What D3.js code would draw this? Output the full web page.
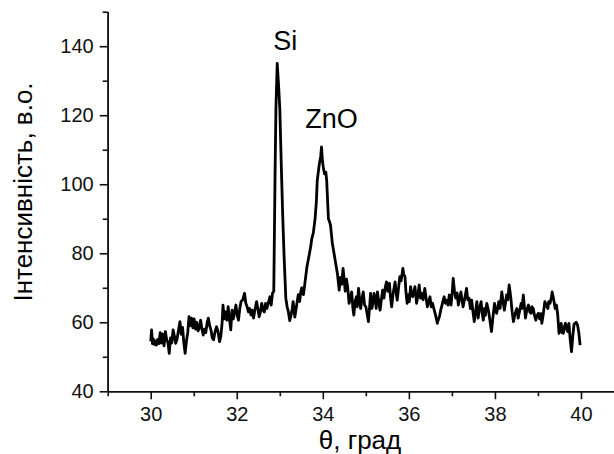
<!DOCTYPE html>
<html>
<head>
<meta charset="utf-8">
<script src="https://cdn.jsdelivr.net/npm/d3@7"></script>
<style>
  body { margin: 0; background: #fff; }
  svg { display: block; font-family: "Liberation Sans", Arial, sans-serif; }
  .axis path, .axis line { stroke: #111; stroke-width: 1.6; }
  .axis text { font-size: 20px; fill: #111; }
  .curve { fill: none; stroke: #000; stroke-width: 2.8; stroke-linejoin: round; }
</style>
</head>
<body>
<div class="container"></div>
<script>
// XRD pattern, [theta, intensity]
var pattern = [
  [30.00, 54.5], [30.02, 57.8], [30.04, 53.8], [30.06, 55.2], [30.08, 53.6], [30.10, 54.6],
  [30.13, 53.4], [30.16, 55.0], [30.19, 53.8], [30.22, 57.0], [30.25, 54.0], [30.28, 56.6],
  [30.31, 53.2], [30.34, 57.3], [30.37, 55.0], [30.40, 54.2], [30.43, 51.0], [30.46, 55.5],
  [30.49, 54.0], [30.52, 57.8], [30.55, 56.0], [30.58, 53.9], [30.61, 55.0], [30.65, 58.0],
  [30.68, 60.2], [30.71, 56.5], [30.74, 58.5], [30.77, 54.0], [30.80, 51.0], [30.83, 54.5],
  [30.86, 57.0], [30.89, 61.6], [30.92, 59.0], [30.95, 61.2], [30.98, 58.4], [31.01, 61.0],
  [31.04, 58.0], [31.07, 60.0], [31.10, 57.5], [31.13, 58.5], [31.16, 60.6], [31.19, 58.0],
  [31.22, 56.3], [31.25, 58.0], [31.28, 57.0], [31.31, 59.8], [31.34, 61.2], [31.37, 59.0],
  [31.40, 57.8], [31.43, 55.5], [31.46, 54.9], [31.49, 57.0], [31.53, 58.7], [31.56, 57.5],
  [31.60, 54.4], [31.63, 56.0], [31.66, 60.0], [31.68, 65.0], [31.71, 61.0], [31.74, 63.0],
  [31.77, 60.6], [31.80, 64.5], [31.83, 61.0], [31.86, 57.8], [31.89, 63.5], [31.92, 61.0],
  [31.95, 63.0], [31.98, 65.0], [32.01, 62.0], [32.04, 60.6], [32.07, 64.0], [32.10, 66.0],
  [32.14, 66.5], [32.18, 68.4], [32.21, 65.5], [32.24, 64.5], [32.27, 63.0], [32.30, 64.0],
  [32.33, 62.1], [32.36, 63.5], [32.39, 61.2], [32.42, 63.5], [32.46, 66.0], [32.49, 64.0],
  [32.52, 61.6], [32.55, 63.0], [32.58, 65.5], [32.61, 63.5], [32.64, 63.0], [32.67, 65.5],
  [32.70, 64.0], [32.73, 65.5], [32.77, 67.4], [32.80, 65.0], [32.83, 68.4], [32.86, 69.0],
  [32.89, 103], [32.91, 122], [32.94, 135], [32.97, 129], [33.00, 122], [33.04, 103],
  [33.07, 90], [33.10, 79], [33.14, 67], [33.17, 64.5], [33.20, 63], [33.23, 60.5],
  [33.26, 62], [33.29, 64], [33.31, 66], [33.33, 63.5], [33.35, 61.5], [33.38, 64],
  [33.41, 66.5], [33.43, 68], [33.46, 66], [33.49, 69], [33.51, 70], [33.55, 68],
  [33.59, 72], [33.63, 76], [33.66, 78], [33.69, 80], [33.72, 82], [33.74, 84],
  [33.78, 86], [33.82, 90], [33.85, 95], [33.87, 101], [33.90, 104], [33.92, 106],
  [33.95, 108], [33.97, 110.8], [33.99, 107], [34.01, 105], [34.04, 103], [34.07, 103.5],
  [34.09, 101], [34.13, 90], [34.16, 89], [34.18, 88], [34.22, 83], [34.26, 80],
  [34.30, 77], [34.34, 74], [34.38, 69.3], [34.41, 73], [34.44, 71], [34.47, 75.6],
  [34.50, 72], [34.52, 69], [34.55, 72.5], [34.58, 70], [34.61, 65.5], [34.64, 67],
  [34.67, 68.8], [34.70, 64], [34.72, 62.1], [34.75, 66], [34.78, 67.4], [34.80, 64.5],
  [34.83, 69.8], [34.86, 66], [34.88, 64], [34.91, 67], [34.94, 68.8], [34.97, 65],
  [35.00, 64.5], [35.03, 62.5], [35.06, 60.2], [35.09, 65], [35.11, 68.4], [35.14, 64],
  [35.17, 66], [35.19, 68.4], [35.22, 66.5], [35.24, 64], [35.27, 68.8], [35.30, 66],
  [35.33, 63.5], [35.36, 66.5], [35.39, 69.3], [35.42, 67], [35.45, 70], [35.48, 71.7],
  [35.51, 69], [35.55, 71.3], [35.57, 67.5], [35.60, 64.5], [35.63, 68], [35.66, 70.3],
  [35.68, 71.7], [35.71, 68], [35.73, 66.4], [35.76, 70], [35.79, 73.2], [35.82, 72],
  [35.86, 75.6], [35.88, 74], [35.91, 73.2], [35.93, 69], [35.96, 65.5], [35.99, 68],
  [36.01, 66], [36.04, 70.3], [36.07, 68], [36.09, 67.4], [36.12, 69], [36.14, 70.3],
  [36.16, 68], [36.18, 65.5], [36.21, 68], [36.24, 70.8], [36.27, 67], [36.30, 68.4],
  [36.33, 66.5], [36.37, 69.8], [36.40, 67], [36.43, 64.5], [36.46, 66], [36.49, 67.4],
  [36.52, 64.5], [36.55, 65.5], [36.58, 64], [36.61, 62.6], [36.64, 61], [36.66, 59.7],
  [36.69, 61], [36.71, 61.6], [36.74, 63.5], [36.76, 64.5], [36.79, 66], [36.82, 67.4],
  [36.85, 65.5], [36.88, 66.4], [36.91, 65], [36.94, 67.9], [36.96, 66], [36.98, 65],
  [37.01, 69], [37.03, 72.7], [37.06, 69], [37.09, 67], [37.12, 68.5], [37.15, 65],
  [37.18, 67], [37.21, 68.8], [37.24, 66], [37.26, 64.5], [37.30, 67], [37.34, 69.8],
  [37.37, 66.5], [37.40, 67], [37.43, 64], [37.46, 66.4], [37.49, 63], [37.52, 60.2],
  [37.55, 63], [37.58, 66], [37.61, 61.2], [37.64, 64], [37.68, 66], [37.70, 63],
  [37.73, 60.6], [37.76, 64], [37.78, 62], [37.81, 65.5], [37.84, 64], [37.86, 62.6],
  [37.89, 60], [37.92, 57.3], [37.95, 61], [37.99, 65.5], [38.02, 63.5], [38.04, 62.6],
  [38.07, 64.5], [38.09, 66], [38.12, 64], [38.16, 68.8], [38.19, 66], [38.22, 63.5],
  [38.25, 66], [38.27, 67.9], [38.30, 66.5], [38.33, 70.8], [38.35, 69], [38.37, 67],
  [38.40, 63], [38.43, 60.2], [38.46, 62], [38.48, 63], [38.51, 64], [38.54, 61.2],
  [38.57, 63], [38.61, 65.5], [38.63, 64], [38.66, 67.9], [38.69, 64], [38.71, 61.2],
  [38.74, 63.5], [38.78, 65], [38.81, 63], [38.84, 62.6], [38.86, 64.5], [38.89, 64],
  [38.92, 62], [38.95, 60.6], [38.98, 62], [39.01, 62.6], [39.04, 61], [39.07, 62.5],
  [39.09, 59.7], [39.12, 62], [39.16, 66], [39.19, 65], [39.23, 64], [39.25, 66],
  [39.28, 65.5], [39.31, 67], [39.33, 68.8], [39.36, 67], [39.40, 64], [39.43, 65],
  [39.46, 62.1], [39.49, 56.8], [39.51, 58.5], [39.54, 59.7], [39.56, 57], [39.59, 56.8],
  [39.62, 59], [39.64, 59.7], [39.67, 58], [39.69, 57.3], [39.72, 59.7], [39.75, 55],
  [39.78, 51.5], [39.81, 56], [39.84, 59.5], [39.86, 59.7], [39.89, 60], [39.92, 59.2],
  [39.95, 57], [39.98, 53.4]
];

var xTicks = [30, 32, 34, 36, 38, 40];
var xMinor = [29, 31, 33, 35, 37, 39, 41];
var yTicks = [40, 60, 80, 100, 120, 140];
var yMinor = [50, 70, 90, 110, 130, 150];

var peaks = [
  { label: 'Si', theta: 32.94, value: 135 },
  { label: 'ZnO', theta: 33.97, value: 110.8 }
];

var xTitle = 'θ, град';
var yTitle = 'Інтенсивність, в.о.';

const WIDTH = 614;
const HEIGHT = 454;
const LEFT = 107.7;
const RIGHT = 624;
const TOP = 11.7;
const BOTTOM = 391.3;

var xScale = d3.scaleLinear().domain([29, 41]).range([LEFT, RIGHT]);
var yScale = d3.scaleLinear().domain([40, 150]).range([BOTTOM, TOP]);

var svg = d3.select('.container').append('svg')
    .attr('width', WIDTH)
    .attr('height', HEIGHT);

// minor ticks first, main axes on top
svg.append('g')
    .attr('class', 'axis')
    .attr('transform', 'translate(0,' + BOTTOM + ')')
    .call(d3.axisBottom(xScale).tickValues(xMinor).tickSize(5).tickSizeOuter(0).tickFormat(''));

svg.append('g')
    .attr('class', 'axis')
    .attr('transform', 'translate(' + LEFT + ',0)')
    .call(d3.axisLeft(yScale).tickValues(yMinor).tickSize(5).tickSizeOuter(0).tickFormat(''));

svg.append('g')
    .attr('class', 'axis')
    .attr('transform', 'translate(0,' + BOTTOM + ')')
    .call(d3.axisBottom(xScale).tickValues(xTicks).tickSize(8).tickSizeOuter(0).tickPadding(8));

svg.append('g')
    .attr('class', 'axis')
    .attr('transform', 'translate(' + LEFT + ',0)')
    .call(d3.axisLeft(yScale).tickValues(yTicks).tickSize(8).tickSizeOuter(0).tickPadding(6));

var line = d3.line()
    .x(function (d) { return xScale(d[0]); })
    .y(function (d) { return yScale(d[1]); });

svg.append('path')
    .attr('class', 'curve')
    .attr('d', line(pattern));

// peak labels
svg.append('text')
    .attr('x', xScale(peaks[0].theta) + 8)
    .attr('y', yScale(peaks[0].value) - 13)
    .attr('text-anchor', 'middle')
    .style('font-size', '27px')
    .text(peaks[0].label);

svg.append('text')
    .attr('x', xScale(peaks[1].theta) + 10)
    .attr('y', yScale(peaks[1].value) - 19)
    .attr('text-anchor', 'middle')
    .style('font-size', '27px')
    .text(peaks[1].label);

svg.append('text')
    .attr('x', 360)
    .attr('y', 449)
    .attr('text-anchor', 'middle')
    .style('font-size', '26px')
    .text(xTitle);

svg.append('text')
    .attr('transform', 'translate(32,192) rotate(-90)')
    .attr('text-anchor', 'middle')
    .style('font-size', '26px')
    .text(yTitle);
</script>
</body>
</html>
